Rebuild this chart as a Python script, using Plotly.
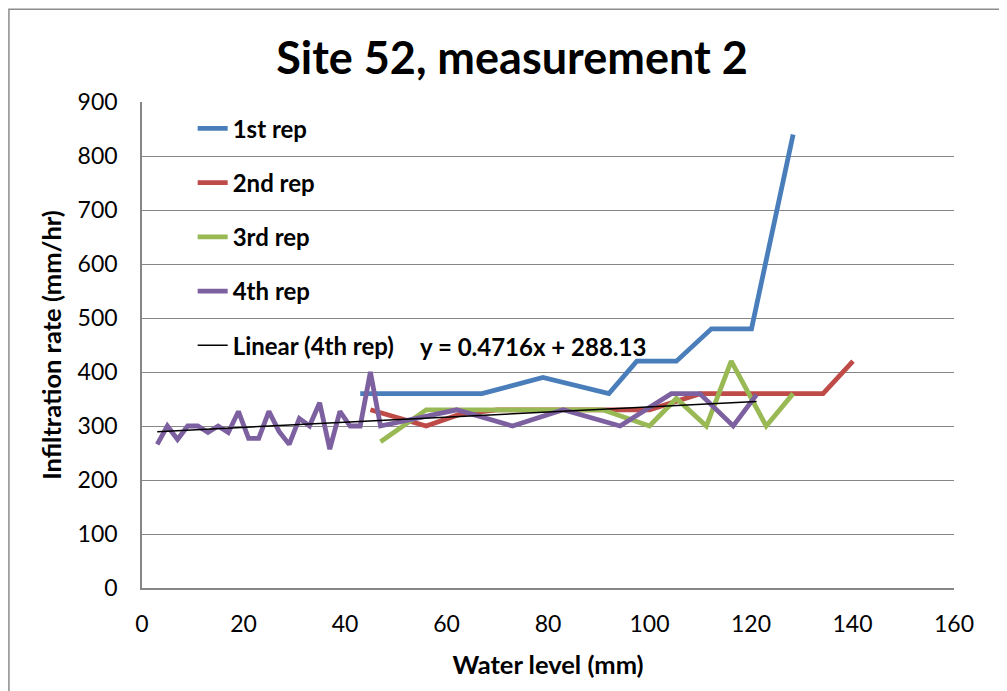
import numpy as np
import plotly.graph_objects as go

# ---- data ----
rep1_x = [43, 55, 67, 79, 92, 97.5, 105.3, 112.2, 120.1, 128.3]
rep1_y = [360, 360, 360, 390, 360, 420, 420, 480, 480, 840]

rep2_x = [45, 56, 62.7, 70, 80, 90, 100, 110, 122, 134.2, 140.1]
rep2_y = [330, 300, 322, 330, 330, 330, 330, 360, 360, 360, 420]

rep3_x = [47, 56, 70, 80, 90.8, 100, 105.3, 111.2, 116.1, 123, 128.3]
rep3_y = [271, 330, 330, 330, 330, 300, 351, 300, 420, 300, 360]

rep4_x = [3, 5, 7, 9, 11, 13, 15, 17, 19, 21, 23, 25, 27, 29, 31, 33, 35, 37,
          39, 41, 43, 45, 47, 62, 73, 83, 94.2, 104.3, 109.9, 116.5, 121.1]
rep4_y = [266, 300, 275, 300, 300, 288, 300, 288, 327, 277, 277, 327, 290, 266,
          314, 300, 343, 257, 327, 300, 300, 400, 300, 330, 300, 330, 300, 360,
          360, 300, 358]

trend_slope = 0.4716
trend_intercept = 288.13

x_ticks = [0, 20, 40, 60, 80, 100, 120, 140, 160]
y_ticks = [0, 100, 200, 300, 400, 500, 600, 700, 800, 900]

colors = {"1st rep": "#4A7EBB", "2nd rep": "#BE4B48",
          "3rd rep": "#98B954", "4th rep": "#7D60A0"}

FONT = "Lato"

fig = go.Figure()
for name, xs, ys in [("1st rep", rep1_x, rep1_y), ("2nd rep", rep2_x, rep2_y),
                     ("3rd rep", rep3_x, rep3_y), ("4th rep", rep4_x, rep4_y)]:
    fig.add_trace(go.Scatter(x=xs, y=ys, mode="lines", name="<b>" + name + "</b>",
                             legendgroup=name,
                             line=dict(color=colors[name], width=4.8)))

tx = np.array([min(rep4_x), max(rep4_x)])
ty = trend_slope * tx + trend_intercept
fig.add_trace(go.Scatter(x=tx, y=ty, mode="lines", name="<b>Linear (4th rep)</b>",
                         legendgroup="trend",
                         line=dict(color="black", width=1.5)))

grid = "#868686"
fig.update_layout(
    width=999, height=683,
    margin=dict(l=134, r=52.5, t=94, b=102.7),
    paper_bgcolor="white", plot_bgcolor="white",
    font=dict(family=FONT, color="black"),
    title=dict(text="<b>Site 52, measurement 2</b>", x=0.5045, y=0.927,
               xref="container", yref="container",
               xanchor="center", yanchor="middle",
               font=dict(family=FONT, size=45, color="black")),
    showlegend=True,
    legend=dict(x=0.0624, y=0.991, xanchor="left", yanchor="top",
                bgcolor="rgba(0,0,0,0)", tracegroupgap=20,
                traceorder="grouped",
                font=dict(family=FONT, size=24, color="black"),
                itemwidth=30),
    xaxis=dict(range=[0, 160], tickvals=x_ticks, showgrid=False,
               showline=True, linecolor=grid, linewidth=1.5,
               zeroline=False, ticks="", ticklabelstandoff=15,
               tickfont=dict(family=FONT, size=23, color="black"),
               title=dict(text="<b>Water level (mm)</b>", standoff=20,
                          font=dict(family=FONT, size=25.5, color="black"))),
    yaxis=dict(range=[0, 900], tickvals=y_ticks, showgrid=True,
               gridcolor=grid, gridwidth=1.3,
               showline=True, linecolor=grid, linewidth=1.5,
               zeroline=False, ticks="", ticklabelstandoff=18,
               tickfont=dict(family=FONT, size=23, color="black"),
               title=dict(text="<b>Infiltration rate (mm/hr)</b>", standoff=9,
                          font=dict(family=FONT, size=25.5, color="black"))),
)

fig.add_annotation(text="<b>y = 0.4716x + 288.13</b>", xref="paper", yref="paper",
                   x=0.3396, y=0.496, xanchor="left", yanchor="middle",
                   showarrow=False, font=dict(family=FONT, size=24, color="black"))

# outer chart border (left and top edges visible in the reference)
fig.add_shape(type="rect", xref="paper", yref="paper",
              x0=-0.1639, x1=1.3, y0=-0.4, y1=1.191,
              line=dict(color="#8C8C8C", width=1.5), layer="below")

fig.write_html("out.html")
